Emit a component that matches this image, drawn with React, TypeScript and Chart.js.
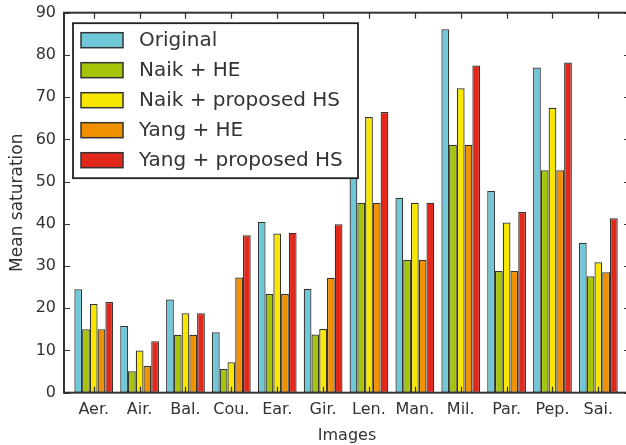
import React, { useEffect, useRef } from "react";
import { Chart, registerables } from "chart.js";

Chart.register(...registerables);

const categories = ["Aer.", "Air.", "Bal.", "Cou.", "Ear.", "Gir.", "Len.", "Man.", "Mil.", "Par.", "Pep.", "Sai."];
const original = [24.5, 15.8, 22.1, 14.3, 40.5, 24.6, 56.0, 46.2, 86.1, 47.8, 77.0, 35.5];
const naikHE = [15.0, 5.1, 13.7, 5.6, 23.4, 13.8, 45.0, 31.5, 58.7, 28.8, 52.7, 27.6];
const naikHS = [21.0, 10.0, 18.8, 7.2, 37.7, 15.1, 65.3, 45.0, 72.1, 40.3, 67.5, 30.9];
const yangHE = [15.0, 6.3, 13.7, 27.3, 23.4, 27.2, 45.0, 31.5, 58.7, 28.8, 52.7, 28.5];
const yangHS = [21.5, 12.2, 18.8, 37.3, 37.9, 39.9, 66.5, 45.0, 77.5, 42.8, 78.2, 41.3];
const seriesNames = ["Original", "Naik + HE", "Naik + proposed HS", "Yang + HE", "Yang + proposed HS"];
const seriesColors = ["#6fc8d8", "#a6c50a", "#f7e700", "#f29100", "#e2281b"];
const yTicks = [0, 10, 20, 30, 40, 50, 60, 70, 80, 90];

const FONT = "'DejaVu Sans', sans-serif";
const EDGE = "#333333";

const framePlugin = {
  id: "frameTicks",
  afterDatasetsDraw(chart: any) {
    const { ctx, chartArea } = chart;
    const { left, right, top, bottom } = chartArea;
    const xs = chart.scales.x;
    const ys = chart.scales.y;
    ctx.save();
    ctx.strokeStyle = EDGE;
    ctx.lineWidth = 1.2;
    const tl = 6;
    ctx.beginPath();
    categories.forEach((_, i) => {
      const px = Math.round(xs.getPixelForValue(i)) + 0.5;
      ctx.moveTo(px, bottom);
      ctx.lineTo(px, bottom - tl);
      ctx.moveTo(px, top);
      ctx.lineTo(px, top + tl);
    });
    yTicks.forEach((v) => {
      const py = Math.round(ys.getPixelForValue(v)) + 0.5;
      ctx.moveTo(left, py);
      ctx.lineTo(left + tl, py);
      ctx.moveTo(right, py);
      ctx.lineTo(right - tl, py);
    });
    ctx.stroke();
    ctx.lineWidth = 2;
    ctx.strokeRect(left, top, right - left, bottom - top);

    // legend
    const bx = left + 9;
    const by = top + 10.5;
    const bw = 285;
    const bh = 155;
    ctx.fillStyle = "#ffffff";
    ctx.fillRect(bx, by, bw, bh);
    ctx.lineWidth = 1.8;
    ctx.strokeStyle = "#222";
    ctx.strokeRect(bx, by, bw, bh);
    ctx.font = `20px ${FONT}`;
    ctx.textBaseline = "middle";
    ctx.textAlign = "left";
    chart.data.datasets.forEach((ds: any, i: number) => {
      const cy = by + 17 + i * 30;
      ctx.fillStyle = ds.backgroundColor;
      ctx.fillRect(bx + 8, cy - 7.5, 42, 15);
      ctx.lineWidth = 1.5;
      ctx.strokeStyle = EDGE;
      ctx.strokeRect(bx + 8, cy - 7.5, 42, 15);
      ctx.fillStyle = "#333";
      ctx.fillText(ds.label, bx + 66, cy + 1);
    });
    ctx.restore();
  },
};

export default function App() {
  const ref = useRef<HTMLCanvasElement | null>(null);
  useEffect(() => {
    if (!ref.current) return;
    const all = [original, naikHE, naikHS, yangHE, yangHS];
    const chart = new Chart(ref.current, {
      type: "bar",
      data: {
        datasets: all.map((vals, k) => ({
          label: seriesNames[k],
          data: vals.map((v, i) => ({ x: i, y: v })),
          backgroundColor: seriesColors[k],
          borderColor: EDGE,
          borderWidth: 1.25,
          borderSkipped: false,
          categoryPercentage: 0.845,
          barPercentage: 1.0,
        })),
      },
      options: {
        responsive: false,
        animation: false,
        layout: { padding: { left: 0, right: 10, top: 12.7, bottom: 0 } },
        plugins: { legend: { display: false }, tooltip: { enabled: false } },
        scales: {
          x: {
            type: "linear",
            min: -0.648,
            max: 11.69,
            offset: false,
            grid: { display: false, drawTicks: false },
            border: { display: false },
            afterBuildTicks: (s: any) => {
              s.ticks = categories.map((_, i) => ({ value: i }));
            },
            afterFit: (s: any) => {
              s.height = 445 - 392.7;
              s.paddingLeft = 0;
              s.paddingRight = 0;
            },
            ticks: {
              autoSkip: false,
              maxRotation: 0,
              padding: 8,
              color: "#333",
              font: { family: FONT, size: 16 },
              callback: (v: any) => categories[v as number] ?? "",
            },
            title: {
              display: true,
              text: "Images",
              color: "#333",
              font: { family: FONT, size: 16 },
              padding: { top: 1, bottom: 0 },
            },
          },
          y: {
            min: 0,
            max: 90,
            grid: { display: false, drawTicks: false },
            border: { display: false },
            afterBuildTicks: (s: any) => {
              s.ticks = yTicks.map((v) => ({ value: v }));
            },
            afterFit: (s: any) => {
              s.width = 64;
              s.paddingTop = 0;
              s.paddingBottom = 0;
            },
            ticks: {
              padding: 8,
              color: "#333",
              font: { family: FONT, size: 16 },
            },
            title: {
              display: true,
              text: "Mean saturation",
              color: "#333",
              font: { family: FONT, size: 17 },
              padding: { top: 7, bottom: 0 },
            },
          },
        },
      },
      plugins: [framePlugin],
    });
    return () => chart.destroy();
  }, []);
  return (
    <div style={{ position: "fixed", left: 0, top: 0, width: 626, height: 445, overflow: "hidden", background: "#fff" }}>
      <canvas ref={ref} width={640} height={445} style={{ width: 640, height: 445, display: "block" }} />
    </div>
  );
}
